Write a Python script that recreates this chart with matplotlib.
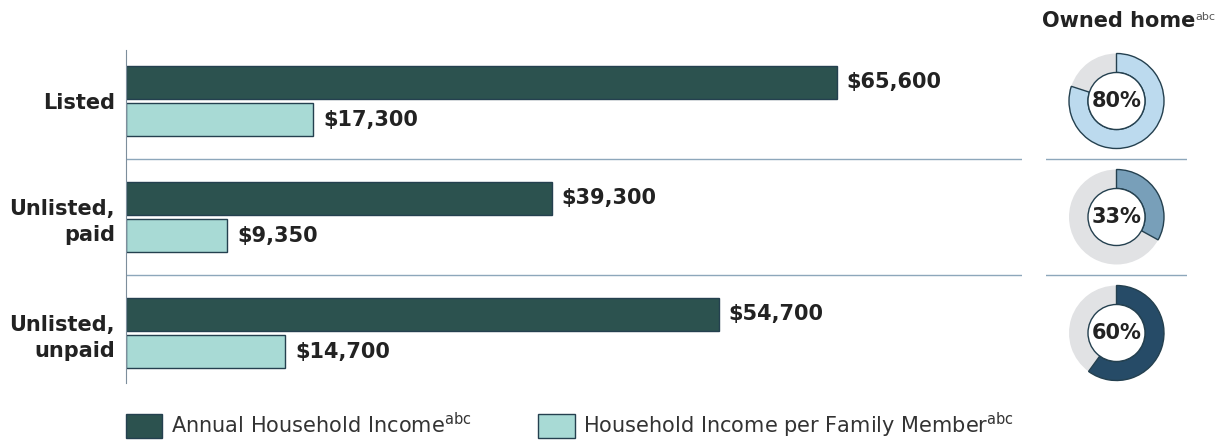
import numpy as np
import matplotlib.pyplot as plt
from matplotlib.patches import Wedge, Circle, Patch

# data
groups = ['Listed', 'Unlisted,\npaid', 'Unlisted,\nunpaid']
annual_income = [65600, 39300, 54700]
per_member = [17300, 9350, 14700]
owned_home = [0.80, 0.33, 0.60]

dark_green = '#2c524f'
light_teal = '#a8dad5'
edge_col = '#24404f'
donut_cols = ['#bcdaee', '#789fb9', '#264b67']
grey = '#e1e2e4'
sep_col = '#8da7bb'
text_col = '#222222'

W, H = 1222, 441
fig = plt.figure(figsize=(W / 100, H / 100), dpi=100)

# pixel box of bar area
left, right, top, bottom = 126, 1022, 50, 383
unit = 116.0  # pixels per group
y_top = -(101 - top) / unit
y_bot = y_top + (bottom - top) / unit

ax = fig.add_axes([left / W, 1 - bottom / H, (right - left) / W, (bottom - top) / H])
y = np.arange(len(groups))
off, bh = 0.16, 0.29
b1 = ax.barh(y - off, annual_income, height=bh, color=dark_green, edgecolor=edge_col, linewidth=1)
b2 = ax.barh(y + off, per_member, height=bh, color=light_teal, edgecolor=edge_col, linewidth=1)
ax.set_xlim(0, (right - left) / 0.010838)
ax.set_ylim(y_bot, y_top)

for bars in (b1, b2):
    for r in bars:
        v = r.get_width()
        ax.annotate('${:,.0f}'.format(v), xy=(v, r.get_y() + r.get_height() / 2),
                    xytext=(7, 0), textcoords='offset points', va='center', ha='left',
                    fontsize=15, fontweight='bold', color=text_col)

for s in y[:-1] + 0.5:
    ax.axhline(s, color=sep_col, lw=1)

for sp in ['top', 'right', 'bottom']:
    ax.spines[sp].set_visible(False)
ax.spines['left'].set_color('#7d8e9c')
ax.set_xticks([])
ax.set_yticks(y)
ax.set_yticklabels(groups, fontsize=15, fontweight='bold', color=text_col, linespacing=1.35)
ax.tick_params(axis='y', length=0, pad=8)

# donut column, same vertical scale
dl, dr = 1046, 1187
dax = fig.add_axes([dl / W, 1 - bottom / H, (dr - dl) / W, (bottom - top) / H])
half = (dr - dl) / unit / 2
dax.set_xlim(-half, half)
dax.set_ylim(y_bot, y_top)
dax.axis('off')
r_out, r_in = 47.5 / unit, 28.5 / unit
for i, (p, c) in enumerate(zip(owned_home, donut_cols)):
    # y axis is inverted, so increasing theta runs clockwise on screen
    t1 = -90
    t2 = -90 + 360 * p
    dax.add_patch(Wedge((0, i), r_out, t2, 270, width=r_out - r_in, facecolor=grey, edgecolor='none'))
    dax.add_patch(Wedge((0, i), r_out, t1, t2, width=r_out - r_in, facecolor=c, edgecolor=edge_col, lw=1))
    dax.add_patch(Circle((0, i), r_in, facecolor='white', edgecolor=edge_col, lw=1))
    dax.text(0, i, '{:.0f}%'.format(p * 100), ha='center', va='center', fontsize=15,
             fontweight='bold', color=text_col)
for s in y[:-1] + 0.5:
    dax.axhline(s, color=sep_col, lw=1)

t = fig.text(1195 / W, 1 - 21 / H, 'Owned home', ha='right', va='center', fontsize=15,
             fontweight='bold', color=text_col)
ax.annotate('abc', xy=(1, 0.95), xycoords=t, va='top', ha='left', fontsize=8, color='#555555',
            annotation_clip=False)

handles = [Patch(facecolor=dark_green, edgecolor=edge_col),
           Patch(facecolor=light_teal, edgecolor=edge_col)]
labels = ['Annual Household Income$^{\\mathrm{abc}}$',
          'Household Income per Family Member$^{\\mathrm{abc}}$']
fig.legend(handles, labels, loc='center left', bbox_to_anchor=(126 / W, 1 - 425 / H),
           ncol=2, frameon=False, fontsize=15, handlelength=1.75, handleheight=1.35,
           handletextpad=0.4, columnspacing=3.2, labelcolor='#333333',
           borderpad=0, borderaxespad=0)

fig.savefig('out.png', dpi=100)
